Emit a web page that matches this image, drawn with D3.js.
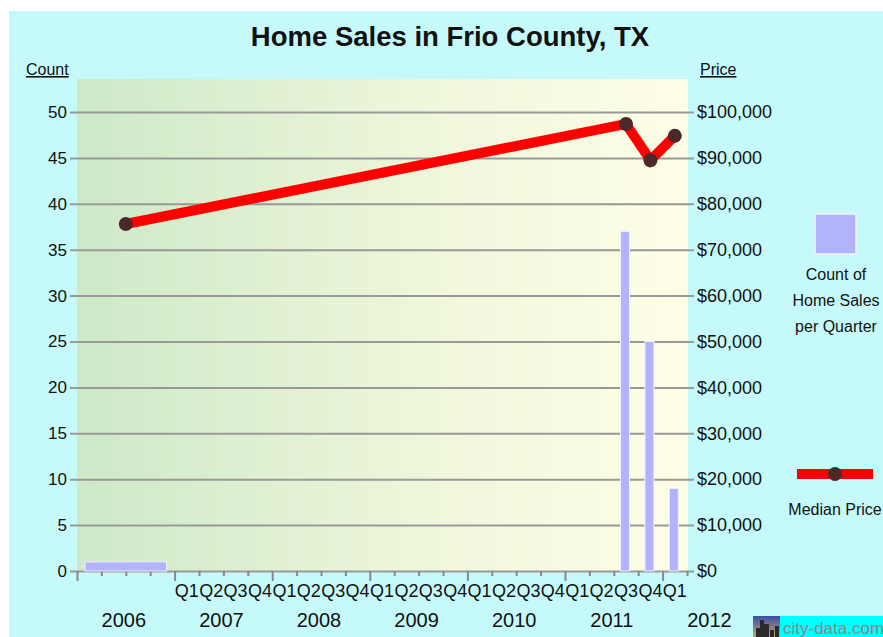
<!DOCTYPE html>
<meta charset="utf-8">
<style>
  body { margin: 0; background: #fff; }
  text { font-family: "Liberation Sans", Arial, sans-serif; }
</style>
<script src="https://d3js.org/d3.v7.min.js"></script>
<div id="chart"></div>
<script>

// data
var salePeriods = ["2006", "2011Q3", "2011Q4", "2012Q1"];
var saleCounts = [1, 37, 25, 9];
var medianPrices = [75600, 97400, 89500, 94800];
var yearLabels = [2006, 2007, 2008, 2009, 2010, 2011, 2012];
var quarterNames = ["Q1", "Q2", "Q3", "Q4"];
var countTicks = [0, 5, 10, 15, 20, 25, 30, 35, 40, 45, 50];
var priceTicks = [0, 10000, 20000, 30000, 40000, 50000, 60000, 70000, 80000, 90000, 100000];

var W = 883, H = 637;
var plot = {left: 77, right: 687, top: 79, bottom: 571};

var svg = d3.select("#chart").append("svg")
  .attr("width", W)
  .attr("height", H);

// period string -> [start, end] in fractional years
function period(p) {
  var yr = +p.slice(0, 4);
  if (p.length == 4) return [yr, yr + 1];
  var q = +p.slice(5) - 1;
  return [yr + q / 4, yr + (q + 1) / 4];
}

var x = d3.scaleLinear().domain([2006, 2012.25]).range([plot.left, plot.right]);
var yCount = d3.scaleLinear().domain([0, 50]).range([plot.bottom, 112]);
var yPrice = d3.scaleLinear().domain([0, 100000]).range([plot.bottom, 112]);

// backgrounds
svg.append("rect")
  .attr("x", 9).attr("y", 11)
  .attr("width", W - 9).attr("height", H - 11)
  .attr("fill", "#c6fafa");

var grad = svg.append("defs").append("linearGradient").attr("id", "bg");
grad.append("stop").attr("offset", "0%").attr("stop-color", "#cde9c7");
grad.append("stop").attr("offset", "55%").attr("stop-color", "#eef6da");
grad.append("stop").attr("offset", "100%").attr("stop-color", "#fefee6");

svg.append("rect")
  .attr("x", plot.left).attr("y", plot.top)
  .attr("width", plot.right - plot.left + 1)
  .attr("height", plot.bottom - plot.top)
  .attr("fill", "url(#bg)");

// title
svg.append("text")
  .attr("x", 450).attr("y", 46)
  .attr("text-anchor", "middle")
  .style("font-size", "27.5px")
  .style("font-weight", "bold")
  .attr("fill", "#111")
  .text("Home Sales in Frio County, TX");

// axis captions
svg.append("text").attr("x", 26).attr("y", 75)
  .style("font-size", "16px").style("text-decoration", "underline")
  .attr("fill", "#111").text("Count");
svg.append("text").attr("x", 700).attr("y", 75)
  .style("font-size", "16px").style("text-decoration", "underline")
  .attr("fill", "#111").text("Price");

// left axis with gridlines
var gLeft = svg.append("g")
  .attr("transform", "translate(70,0)")
  .call(d3.axisLeft(yCount).tickValues(countTicks).tickSize(-624).tickPadding(3));
gLeft.select(".domain").remove();
gLeft.selectAll(".tick line").attr("stroke", "#999").attr("stroke-width", 2);
gLeft.selectAll(".tick text")
  .style("font-size", "17px").attr("fill", "#111")
  .attr("font-family", null);

// right axis labels
var gRight = svg.append("g")
  .attr("transform", "translate(694,0)")
  .call(d3.axisRight(yPrice).tickValues(priceTicks).tickSize(0).tickPadding(3)
    .tickFormat(function(d) { return "$" + d3.format(",")(d); }));
gRight.select(".domain").remove();
gRight.selectAll(".tick text")
  .style("font-size", "18px").attr("fill", "#111")
  .attr("font-family", null);

// bottom axis: quarterly ticks, longer at year starts
var qTicks = d3.range(0, 26).map(function(i) { return 2006 + i / 4; });
var gBottom = svg.append("g")
  .attr("transform", "translate(0," + plot.bottom + ")")
  .call(d3.axisBottom(x).tickValues(qTicks).tickFormat(""));
gBottom.select(".domain").remove();
gBottom.selectAll(".tick line")
  .attr("stroke", "#888").attr("stroke-width", 2)
  .attr("y2", function(d) { return Math.abs(d - Math.round(d)) < 1e-6 ? 10 : 5; });

// quarter labels (2007 Q1 onwards)
var qLabels = [];
for (var yr = 2007; yr <= 2012; yr++) {
  quarterNames.forEach(function(q, i) {
    if (yr == 2012 && i > 0) return;
    qLabels.push({name: q, t: yr + (i + 0.5) / 4});
  });
}
svg.append("g").selectAll("text")
  .data(qLabels).enter().append("text")
  .attr("x", function(d) { return x(d.t); })
  .attr("y", 597)
  .attr("text-anchor", "middle")
  .style("font-size", "18px").attr("fill", "#111")
  .text(function(d) { return d.name; });

svg.append("g").selectAll("text")
  .data(yearLabels).enter().append("text")
  .attr("x", function(d) { return x(d + 0.5) - 2; })
  .attr("y", 627)
  .attr("text-anchor", "middle")
  .style("font-size", "20px").attr("fill", "#111")
  .text(function(d) { return d; });

// bars
var bars = salePeriods.map(function(p, i) {
  var r = period(p);
  return {s: r[0], e: r[1], v: saleCounts[i]};
});
svg.append("g").selectAll("rect")
  .data(bars).enter().append("rect")
  .attr("x", function(d) {
    return d.e - d.s > 0.5 ? x(d.s) + 8 : x((d.s + d.e) / 2) - 5.5;
  })
  .attr("width", function(d) {
    return d.e - d.s > 0.5 ? x(d.e) - x(d.s) - 16 : 9;
  })
  .attr("y", function(d) { return yCount(d.v); })
  .attr("height", function(d) { return yCount(0) - yCount(d.v); })
  .attr("fill", "#b3b3fd")
  .attr("stroke", "#eef0ff")
  .attr("stroke-width", 1);

// median price line
var pts = salePeriods.map(function(p, i) {
  var r = period(p);
  return {t: (r[0] + r[1]) / 2, v: medianPrices[i]};
});
svg.append("path")
  .datum(pts)
  .attr("fill", "none")
  .attr("stroke", "#ff0000")
  .attr("stroke-width", 10)
  .attr("d", d3.line()
    .x(function(d) { return x(d.t); })
    .y(function(d) { return yPrice(d.v); }));
svg.append("g").selectAll("circle")
  .data(pts).enter().append("circle")
  .attr("cx", function(d) { return x(d.t); })
  .attr("cy", function(d) { return yPrice(d.v); })
  .attr("r", 7)
  .attr("fill", "#4b2929");

// legend
svg.append("rect")
  .attr("x", 815).attr("y", 214).attr("width", 41).attr("height", 40)
  .attr("fill", "#b3b3fd").attr("stroke", "#f4f4ff").attr("stroke-width", 1.5);
svg.append("g").selectAll("text")
  .data(["Count of", "Home Sales", "per Quarter"]).enter().append("text")
  .attr("x", 836)
  .attr("y", function(d, i) { return 280 + i * 26; })
  .attr("text-anchor", "middle")
  .style("font-size", "16px").attr("fill", "#111")
  .text(function(d) { return d; });

svg.append("rect")
  .attr("x", 797).attr("y", 469).attr("width", 76).attr("height", 10)
  .attr("fill", "#ff0000");
svg.append("circle")
  .attr("cx", 835).attr("cy", 474).attr("r", 7)
  .attr("fill", "#4b2929");
svg.append("text")
  .attr("x", 835).attr("y", 515)
  .attr("text-anchor", "middle")
  .style("font-size", "16px").attr("fill", "#111")
  .text("Median Price");

// city-data badge
var logoGrad = svg.select("defs").append("linearGradient")
  .attr("id", "sky").attr("x1", 0).attr("y1", 0).attr("x2", 0).attr("y2", 1);
logoGrad.append("stop").attr("offset", "0%").attr("stop-color", "#3a4fa8");
logoGrad.append("stop").attr("offset", "100%").attr("stop-color", "#c9a46a");
svg.append("rect").attr("x", 753).attr("y", 616).attr("width", 27).attr("height", 21)
  .attr("fill", "url(#sky)");
[[756, 628, 4], [760, 620, 4], [764, 624, 5], [770, 630, 4], [775, 626, 4]].forEach(function(b) {
  svg.append("rect").attr("x", b[0]).attr("y", b[1]).attr("width", b[2])
    .attr("height", 637 - b[1]).attr("fill", "#2a2a2a");
});
svg.append("rect").attr("x", 780).attr("y", 616).attr("width", 103).attr("height", 21)
  .attr("fill", "#00ffff");
svg.append("text").attr("x", 783).attr("y", 634)
  .style("font-size", "17px").attr("fill", "#888")
  .text("city-data.com");

</script>
